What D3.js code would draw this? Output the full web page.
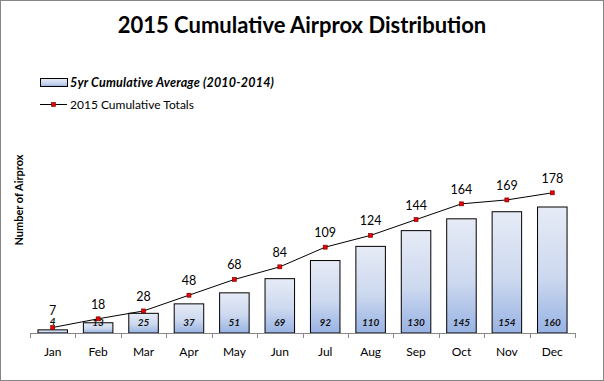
<!DOCTYPE html>
<html><head><meta charset="utf-8">
<script src="https://cdn.jsdelivr.net/npm/d3@7"></script>
<style>body{margin:0;background:#fff}svg{display:block}</style>
</head><body>
<script>
const months = ["Jan","Feb","Mar","Apr","May","Jun","Jul","Aug","Sep","Oct","Nov","Dec"];
const avg5yr = [4,13,25,37,51,69,92,110,130,145,154,160];
const totals2015 = [7,18,28,48,68,84,109,124,144,164,169,178];
const titleText = "2015 Cumulative Airprox Distribution";
const avgLabel = "5yr Cumulative Average (2010-2014)";
const totLabel = "2015 Cumulative Totals";
const yTitle = "Number of Airprox";

const W=604,H=381;
const svg=d3.select("body").append("svg").attr("width",W).attr("height",H);
const font="Lato, 'Open Sans', sans-serif";
svg.append("rect").attr("x",0.5).attr("y",0.5).attr("width",W-1).attr("height",H-1).attr("fill","#fff").attr("stroke","#868686");

const defs=svg.append("defs");
const g=defs.append("linearGradient").attr("id","bg").attr("x1",0).attr("y1",0).attr("x2",0).attr("y2",1);
g.append("stop").attr("offset","0%").attr("stop-color","#e6ebf6");
g.append("stop").attr("offset","55%").attr("stop-color","#cdd9ef");
g.append("stop").attr("offset","100%").attr("stop-color","#98b3e3");

const x=d3.scaleBand().domain(months).range([30,575]).paddingInner(0.35).paddingOuter(0.175);
const y=d3.scaleLinear().domain([0,200]).range([333,333-200*0.7875]);

svg.append("text").attr("x",302).attr("y",33).attr("text-anchor","middle").attr("font-family",font).attr("font-weight","bold").attr("font-size",22).text(titleText);

// bars
svg.selectAll("rect.bar").data(months).join("rect").attr("class","bar")
 .attr("x",d=>x(d)).attr("width",x.bandwidth())
 .attr("y",(d,i)=>y(avg5yr[i])).attr("height",(d,i)=>y(0)-y(avg5yr[i]))
 .attr("fill","url(#bg)").attr("stroke","#000").attr("stroke-width",1);

svg.selectAll("text.bl").data(months).join("text").attr("class","bl")
 .attr("x",d=>x(d)+x.bandwidth()/2).attr("y",(d,i)=>i===0?325:326).attr("text-anchor","middle")
 .attr("font-family",font).attr("font-style","italic").attr("font-weight","bold").attr("font-size",10).attr("fill","#111")
 .text((d,i)=>avg5yr[i]);

// axis
const ax=svg.append("g").attr("transform","translate(0,333)");
ax.append("line").attr("x1",30).attr("x2",575).attr("y1",0.5).attr("y2",0.5).attr("stroke","#868686");
d3.range(13).forEach(i=>{
  const xx=Math.round(30+i*(545/12))+0.5;
  ax.append("line").attr("x1",xx).attr("x2",xx).attr("y1",0).attr("y2",5).attr("stroke","#868686");
});
ax.selectAll("text").data(months).join("text").attr("x",d=>x(d)+x.bandwidth()/2).attr("y",23).attr("text-anchor","middle")
 .attr("font-family",font).attr("font-size",12).attr("fill","#000").text(d=>d);

// line
const cx=d=>x(d)+x.bandwidth()/2;
const line=d3.line().x((d,i)=>cx(months[i])).y(d=>y(d));
svg.append("path").datum(totals2015).attr("d",line).attr("fill","none").attr("stroke","#000").attr("stroke-width",1);
svg.selectAll("rect.pt").data(totals2015).join("rect").attr("class","pt")
 .attr("x",(d,i)=>cx(months[i])-2).attr("y",d=>y(d)-2).attr("width",4).attr("height",4)
 .attr("fill","#e00").attr("stroke","#600").attr("stroke-width",0.6);
svg.selectAll("text.pl").data(totals2015).join("text").attr("class","pl")
 .attr("x",(d,i)=>cx(months[i])).attr("y",(d,i)=>y(d)-(i===0?12:10)).attr("text-anchor","middle")
 .attr("font-family",font).attr("font-size",12.5).attr("fill","#000").text(d=>d);

// y title
svg.append("text").attr("transform","translate(23,200) rotate(-90)").attr("text-anchor","middle")
 .attr("font-family",font).attr("font-weight","bold").attr("font-size",11).text(yTitle);

// legend
svg.append("rect").attr("x",40.5).attr("y",78.5).attr("width",27).attr("height",8).attr("fill","url(#bg)").attr("stroke","#000");
svg.append("text").attr("x",70).attr("y",87).attr("font-family",font).attr("font-style","italic").attr("font-weight","bold").attr("font-size",12.5).attr("letter-spacing",0.2).text(avgLabel);
svg.append("line").attr("x1",40).attr("x2",67).attr("y1",104.5).attr("y2",104.5).attr("stroke","#000");
svg.append("rect").attr("x",51.5).attr("y",102.5).attr("width",4).attr("height",4).attr("fill","#e00").attr("stroke","#600").attr("stroke-width",0.6);
svg.append("text").attr("x",70).attr("y",109).attr("font-family",font).attr("font-size",12).text(totLabel);
</script>
</body></html>
